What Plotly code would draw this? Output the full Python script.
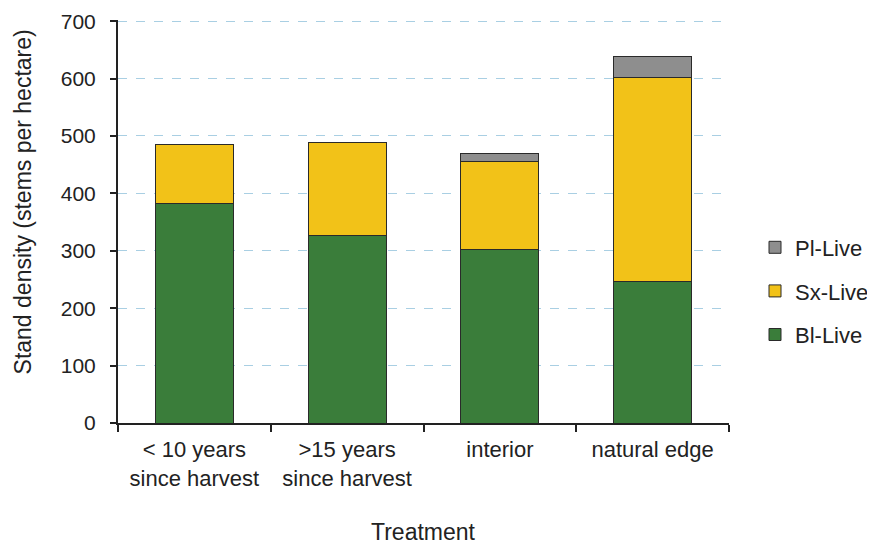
import plotly.graph_objects as go

categories = ["< 10 years<br>since harvest", ">15 years<br>since harvest", "interior", "natural edge"]
bl_live = [383, 326, 303, 247]
sx_live = [103, 163, 153, 354]
pl_live = [0, 0, 13, 37]
y_ticks = [0, 100, 200, 300, 400, 500, 600, 700]

font = "Liberation Sans, Arial, sans-serif"
line = dict(color="#2a2a2a", width=1)

# page has an 8px body margin; figure coordinates are page coordinates minus 8
OFF = 8
W, H = 875 - OFF, 546 - OFF
L = 118 - OFF
R_PLOT = 729 - OFF
TOP = 21 - OFF
BOT = 423 - OFF
area_w = W - L
dom_r = (R_PLOT - L) / area_w
plot_h = BOT - TOP

def px(page_x):
    return (page_x - OFF - L) / area_w

def py(page_y):
    return (BOT - (page_y - OFF)) / plot_h

fig = go.Figure()
fig.add_trace(go.Bar(x=categories, y=bl_live, name="Bl-Live", marker=dict(color="#3a7d3a", line=line),
                     legendgroup="a", legendrank=3))
fig.add_trace(go.Bar(x=categories, y=sx_live, name="Sx-Live", marker=dict(color="#f2c218", line=line),
                     legendgroup="b", legendrank=2))
fig.add_trace(go.Bar(x=categories, y=pl_live, name="Pl-Live", marker=dict(color="#8e8e8e", line=line),
                     legendgroup="c", legendrank=1))

fig.update_layout(
    barmode="stack",
    bargap=0.49,
    width=W, height=H,
    margin=dict(l=L, r=0, t=TOP - 1, b=H - BOT, autoexpand=False),
    paper_bgcolor="white", plot_bgcolor="white",
    font=dict(family=font, size=18, color="#222"),
    legend=dict(x=px(755), y=py(227), xanchor="left", yanchor="top", traceorder="grouped",
                tracegroupgap=12, font=dict(size=22, color="#222")),
    showlegend=True,
    annotations=[
        dict(text="Stand density (stems per hectare)", textangle=-90, xref="paper", yref="paper",
             x=px(23), y=py(203), xanchor="center", yanchor="middle", showarrow=False,
             font=dict(size=23, color="#222")),
        dict(text="Treatment", xref="x domain", yref="paper", x=0.5, y=py(532),
             xanchor="center", yanchor="middle", showarrow=False, font=dict(size=23, color="#222")),
    ],
)
fig.update_xaxes(
    domain=[0, dom_r], automargin=False,
    showline=True, linecolor="#222", linewidth=2,
    ticks="outside", tickson="boundaries", ticklen=7, tickcolor="#222", tickwidth=2,
    tickfont=dict(size=22), ticklabelstandoff=6,
)
fig.update_yaxes(
    range=[0, 702], tickvals=y_ticks, automargin=False,
    showline=True, linecolor="#222", linewidth=2,
    ticks="outside", ticklen=6, tickcolor="#222", tickwidth=2,
    tickfont=dict(size=21), ticklabelstandoff=10,
    showgrid=True, gridcolor="#a9cfe3", griddash="dash", gridwidth=1,
    zeroline=False,
)
fig.write_html("out.html")
